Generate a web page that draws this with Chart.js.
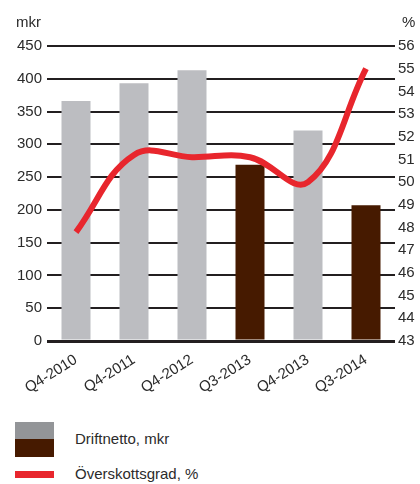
<!DOCTYPE html>
<html>
<head>
<meta charset="utf-8">
<script src="https://cdn.jsdelivr.net/npm/chart.js@4/dist/chart.umd.min.js"></script>
<style>
    body { margin: 0; background: #fff; font-family: 'Liberation Sans', Arial, sans-serif; color: #2b2b2b; }
    #wrap { position: relative; width: 420px; height: 484px; }
    #mainChart { position: absolute; left: 0; top: 0; }
    .unit { position: absolute; top: 13px; font-size: 15px; }
    .legend-item { position: absolute; left: 15px; font-size: 15px; }
    .legend-box { position: absolute; left: 0; width: 39px; }
    .legend-text { position: absolute; left: 60px; white-space: nowrap; }
</style>
</head>
<body>
<div id="wrap">
    <canvas id="mainChart" width="420" height="400"></canvas>
    <div class="unit" style="left:16px;">mkr</div>
    <div class="unit" style="left:402px;">%</div>

    <div class="legend-item" style="top:422px;">
        <div class="legend-box" style="top:0; height:17px; background:#939598;"></div>
        <div class="legend-box" style="top:17px; height:18px; background:#461a00;"></div>
        <div class="legend-text" style="top:8px;">Driftnetto, mkr</div>
    </div>
    <div class="legend-item" style="top:471px;">
        <div class="legend-box" style="top:0; height:7px; background:#e8262d;"></div>
        <div class="legend-text" style="top:-6px;">Överskottsgrad, %</div>
    </div>
</div>

<script>
const categories = ['Q4-2010', 'Q4-2011', 'Q4-2012', 'Q3-2013', 'Q4-2013', 'Q3-2014'];
const driftnetto = [366, 393, 413, 269, 321, 207];
const overskott = [47.8, 51.2, 51.1, 51.1, 50.0, 55.0];
const barColors = ['#bcbdc1', '#bcbdc1', '#bcbdc1', '#461a00', '#bcbdc1', '#461a00'];

const textColor = '#2b2b2b';
const tickFont = { family: 'Liberation Sans', size: 15 };

const ctx = document.getElementById('mainChart').getContext('2d');

const mainChart = new Chart(ctx, {
    type: 'bar',
    data: {
        labels: categories,
        datasets: [
            {
                type: 'line',
                label: 'Överskottsgrad, %',
                data: overskott,
                yAxisID: 'y1',
                borderColor: '#e8262d',
                borderWidth: 6,
                borderCapStyle: 'butt',
                tension: 0.4,
                pointRadius: 0,
                fill: false,
                order: 0
            },
            {
                label: 'Driftnetto, mkr',
                data: driftnetto,
                yAxisID: 'y',
                backgroundColor: barColors,
                barPercentage: 0.5,
                categoryPercentage: 1.0,
                order: 1
            }
        ]
    },
    options: {
        responsive: false,
        animation: false,
        layout: { padding: { top: 46, left: 0, right: 0, bottom: 0 } },
        plugins: {
            legend: { display: false },
            tooltip: { enabled: false }
        },
        scales: {
            x: {
                offset: true,
                grid: { display: false },
                border: { display: false },
                ticks: {
                    color: textColor,
                    font: tickFont,
                    minRotation: 32,
                    maxRotation: 32,
                    padding: 2
                },
                afterFit: function(scale) { scale.height = 59; }
            },
            y: {
                position: 'left',
                min: 0,
                max: 450,
                border: { display: false },
                grid: {
                    color: '#231f20',
                    lineWidth: function(c) { return c.index === 0 ? 3 : 2; },
                    drawTicks: false
                },
                ticks: {
                    stepSize: 50,
                    color: textColor,
                    font: tickFont,
                    padding: 5
                },
                afterFit: function(scale) { scale.width = 47; }
            },
            y1: {
                position: 'right',
                min: 43,
                max: 56,
                border: { display: false },
                grid: { display: false, drawTicks: false },
                ticks: {
                    stepSize: 1,
                    autoSkip: false,
                    color: textColor,
                    font: tickFont,
                    padding: 3
                },
                afterFit: function(scale) { scale.width = 25; }
            }
        }
    }
});
</script>
</body>
</html>
